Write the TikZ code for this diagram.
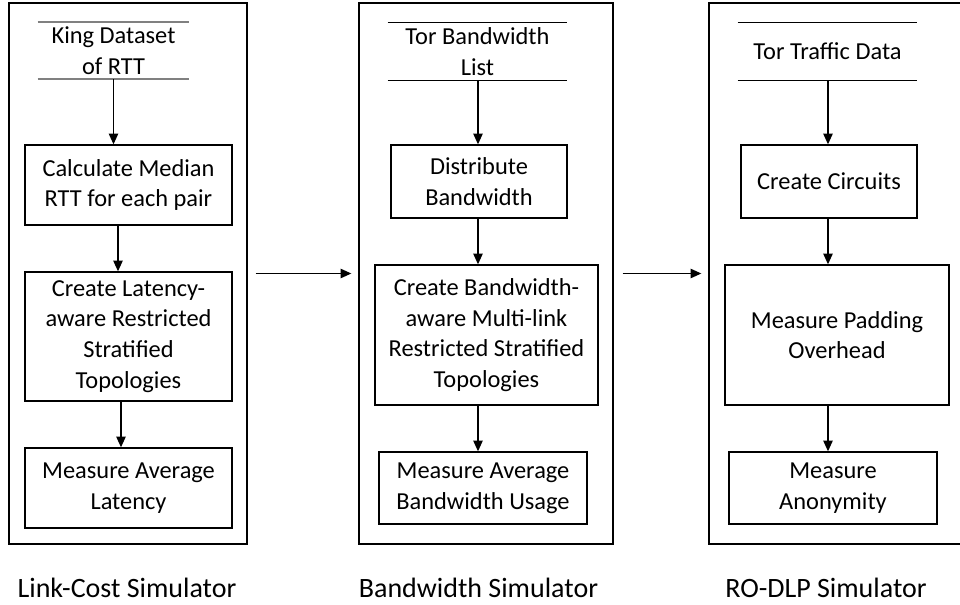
\documentclass[tikz,border=0pt]{standalone}
\usepackage{fontspec}
\setmainfont{Carlito}
\usetikzlibrary{arrows.meta}
\begin{document}
\begin{tikzpicture}[x=0.75pt,y=-0.75pt,
  txt/.style={font=\fontsize{18.3}{23}\selectfont},
  proc/.style={txt, draw, line width=1pt, align=center, inner sep=2pt},
  store/.style={txt, align=center, inner sep=0pt, minimum width=134.25pt, minimum height=42.75pt},
  storeline/.style={line width=1pt},
  panel/.style={draw, line width=1pt, minimum height=405.75pt, inner sep=0pt},
  flow/.style={-{Triangle[length=8pt,width=7pt]}, line width=1pt},
  caption/.style={font=\fontsize{21}{25}\selectfont}]
\useasboundingbox (0,0) rectangle (960,605);
\clip (0,0) rectangle (960,605);

% outer frames of the three simulators
\node[panel, minimum width=178.5pt] (panA) at (128,273.5) {};
\node[panel, minimum width=190.5pt] (panB) at (486,273.5) {};
\node[panel, minimum width=190.5pt] (panC) at (836,273.5) {};

% Link-Cost simulator
\node[store, minimum width=113.25pt] (dataA) at (113.5,50.5) {King Dataset\\of RTT};
\draw[storeline, line width=1.3pt, gray] (dataA.north west) -- (dataA.north east);
\draw[storeline, line width=1.3pt, gray] (dataA.south west) -- (dataA.south east);
\node[proc, minimum width=155.25pt, minimum height=60pt] (a1) at (128.5,185) {Calculate Median\\RTT for each pair};
\node[proc, minimum width=155.25pt, minimum height=96.75pt] (a2) at (128.5,336.5) {Create Latency-\\aware Restricted\\Stratified\\Topologies};
\node[proc, minimum width=155.25pt, minimum height=60pt] (a3) at (128.5,488) {Measure Average\\Latency};
\coordinate (xa1) at (113.5,0);
\coordinate (xa2) at (118,0);
\coordinate (xa3) at (121,0);
\draw[flow] (dataA.south) -- (a1.north -| xa1);
\draw[flow] (a1.south -| xa2) -- (a2.north -| xa2);
\draw[flow] (a2.south -| xa3) -- (a3.north -| xa3);

% Bandwidth simulator
\node[store] (dataB) at (477.5,51.5) {Tor Bandwidth\\List};
\draw[storeline] (dataB.north west) -- (dataB.north east);
\draw[storeline] (dataB.south west) -- (dataB.south east);
\node[proc, minimum width=132pt, minimum height=54.75pt] (b1) at (479,181.5) {Distribute\\Bandwidth};
\node[proc, minimum width=167.25pt, minimum height=105pt] (b2) at (486.5,335) {Create Bandwidth-\\aware Multi-link\\Restricted Stratified\\Topologies};
\node[proc, minimum width=156pt, minimum height=54pt] (b3) at (483,488) {Measure Average\\Bandwidth Usage};
\coordinate (xb) at (478,0);
\draw[flow] (dataB.south -| xb) -- (b1.north -| xb);
\draw[flow] (b1.south -| xb) -- (b2.north -| xb);
\draw[flow] (b2.south -| xb) -- (b3.north -| xb);

% RO-DLP simulator
\node[store] (dataC) at (827.5,51.5) {Tor Traffic Data};
\draw[storeline] (dataC.north west) -- (dataC.north east);
\draw[storeline] (dataC.south west) -- (dataC.south east);
\node[proc, minimum width=132pt, minimum height=54.75pt] (c1) at (829,181.5) {Create Circuits};
\node[proc, minimum width=168pt, minimum height=105pt] (c2) at (837,335) {Measure Padding\\Overhead};
\node[proc, minimum width=156pt, minimum height=54pt] (c3) at (833,488) {Measure\\Anonymity};
\coordinate (xc) at (828,0);
\draw[flow] (dataC.south -| xc) -- (c1.north -| xc);
\draw[flow] (c1.south -| xc) -- (c2.north -| xc);
\draw[flow] (c2.south -| xc) -- (c3.north -| xc);

% hand-over between simulators
\draw[flow] ([xshift=6pt]panA.east) -- ([xshift=-5.25pt]panB.west);
\draw[flow] ([xshift=6.75pt]panB.east) -- ([xshift=-5.25pt]panC.west);

% simulator names
\node[caption] (capA) at (127,588) {Link-Cost Simulator};
\node[caption] (capB) at (478.5,588) {Bandwidth Simulator};
\node[caption] (capC) at (826,588) {RO-DLP Simulator};
\end{tikzpicture}
\end{document}
